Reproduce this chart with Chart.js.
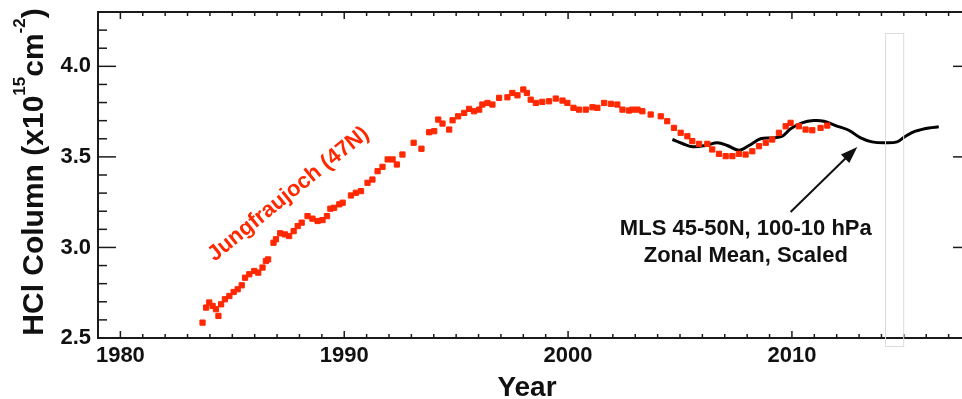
<!DOCTYPE html>
<html>
<head>
<meta charset="utf-8">
<script src="https://cdn.jsdelivr.net/npm/chart.js@4/dist/chart.umd.min.js"></script>
<style>
  html, body { margin: 0; padding: 0; background: #fff; overflow: hidden; }
  #wrap { width: 962px; height: 399px; overflow: hidden; }
</style>
</head>
<body>
<div id="wrap"><canvas id="hclChart" width="976" height="399"></canvas></div>
<script>
// Jungfraujoch (47N) HCl column
const jfjYears = [1983.67, 1983.83, 1983.97, 1984.12, 1984.27, 1984.38, 1984.50, 1984.67, 1984.87, 1985.06,
  1985.24, 1985.42, 1985.57, 1985.76, 1985.98, 1986.16, 1986.35, 1986.50, 1986.60, 1986.84,
  1986.95, 1987.14, 1987.35, 1987.54, 1987.74, 1987.92, 1988.10, 1988.36, 1988.58, 1988.81,
  1989.03, 1989.23, 1989.38, 1989.55, 1989.78, 1989.93, 1990.30, 1990.52, 1990.75, 1991.04,
  1991.26, 1991.49, 1991.71, 1991.94, 1992.16, 1992.35, 1992.60, 1993.10, 1993.45, 1993.79,
  1994.02, 1994.20, 1994.39, 1994.69, 1994.84, 1995.09, 1995.36, 1995.58, 1995.80, 1996.03,
  1996.17, 1996.40, 1996.62, 1996.92, 1997.29, 1997.51, 1997.74, 1998.00, 1998.16, 1998.33,
  1998.56, 1998.85, 1999.15, 1999.45, 1999.75, 1999.97, 2000.24, 2000.49, 2000.79, 2001.09,
  2001.31, 2001.61, 2001.91, 2002.20, 2002.43, 2002.72, 2002.87, 2003.10, 2003.32, 2003.69,
  2004.14, 2004.43, 2004.73, 2005.03, 2005.33, 2005.55, 2005.85, 2006.22, 2006.44, 2006.74,
  2007.04, 2007.34, 2007.63, 2007.93, 2008.23, 2008.53, 2008.83, 2009.12, 2009.42, 2009.72,
  2009.94, 2010.31, 2010.61, 2010.91, 2011.28, 2011.58];
const jfjValues = [2.585, 2.668, 2.696, 2.677, 2.659, 2.622, 2.686, 2.714, 2.732, 2.754,
  2.769, 2.791, 2.833, 2.852, 2.870, 2.861, 2.889, 2.925, 2.934, 3.026,
  3.045, 3.078, 3.072, 3.063, 3.090, 3.118, 3.137, 3.173, 3.159, 3.146,
  3.151, 3.173, 3.214, 3.219, 3.238, 3.247, 3.287, 3.302, 3.311, 3.357,
  3.375, 3.421, 3.445, 3.486, 3.486, 3.458, 3.513, 3.578, 3.545, 3.636,
  3.642, 3.706, 3.684, 3.651, 3.702, 3.724, 3.743, 3.765, 3.752, 3.761,
  3.789, 3.798, 3.789, 3.826, 3.829, 3.853, 3.840, 3.872, 3.853, 3.816,
  3.798, 3.804, 3.807, 3.822, 3.811, 3.798, 3.771, 3.761, 3.761, 3.774,
  3.771, 3.798, 3.793, 3.789, 3.761, 3.756, 3.761, 3.761, 3.752, 3.734,
  3.724, 3.697, 3.660, 3.633, 3.614, 3.587, 3.572, 3.572, 3.541, 3.517,
  3.504, 3.504, 3.517, 3.513, 3.531, 3.559, 3.578, 3.596, 3.633, 3.669,
  3.688, 3.669, 3.651, 3.647, 3.660, 3.673];

// MLS 45-50N, 100-10 hPa zonal mean, scaled
const mlsYears = [2004.66, 2005.10, 2005.55, 2006.15, 2006.67, 2007.11, 2007.63, 2008.08, 2008.60, 2009.12,
  2009.57, 2009.94, 2010.45, 2010.98, 2011.43, 2011.95, 2012.54, 2013.07, 2013.58, 2014.11,
  2014.70, 2015.07, 2015.52, 2016.12, 2016.56];
const mlsValues = [3.596, 3.574, 3.556, 3.563, 3.578, 3.563, 3.537, 3.563, 3.600, 3.605,
  3.614, 3.655, 3.688, 3.701, 3.697, 3.673, 3.647, 3.605, 3.583, 3.578,
  3.583, 3.614, 3.642, 3.660, 3.666];

const xTicks = [1980, 1990, 2000, 2010];
const yTicks = [2.5, 3.0, 3.5, 4.0];

Chart.defaults.font.family = "'Liberation Sans', Arial, sans-serif";
Chart.defaults.color = '#111';

const AXIS = '#1a1a1a';
const RED = 'rgb(255, 40, 0)';

function line(ctx, x1, y1, x2, y2) {
  ctx.beginPath();
  ctx.moveTo(x1, y1);
  ctx.lineTo(x2, y2);
  ctx.stroke();
}

// IDL style box with inward ticks on all four sides
const frame = {
  id: 'frame',
  afterDraw(chart) {
    const { ctx, chartArea: a, scales: { x, y } } = chart;
    ctx.save();
    ctx.strokeStyle = AXIS;
    ctx.lineWidth = 1.5;
    for (let yr = Math.ceil(x.min); yr <= x.max; yr++) {
      const px = x.getPixelForValue(yr);
      const len = yr % 10 === 0 ? 7 : 4;
      line(ctx, px, a.bottom, px, a.bottom - len);
      line(ctx, px, a.top, px, a.top + len);
    }
    for (let i = Math.round(y.min * 10); i <= Math.round(y.max * 10); i++) {
      const py = y.getPixelForValue(i / 10);
      const len = i % 5 === 0 ? 18 : 9;
      line(ctx, a.left, py, a.left + len, py);
      line(ctx, a.right, py, a.right - len, py);
    }
    ctx.lineWidth = 2;
    ctx.strokeRect(a.left, a.top, a.right - a.left, a.bottom - a.top);
    ctx.restore();
  }
};

// titles and annotations
const notes = {
  id: 'notes',
  afterDraw(chart) {
    const { ctx, scales: { x, y } } = chart;
    ctx.save();

    // faint grey box
    ctx.strokeStyle = '#dcdcdc';
    ctx.lineWidth = 1;
    const bx1 = x.getPixelForValue(2014.16), bx2 = x.getPixelForValue(2014.97);
    const by1 = y.getPixelForValue(4.184), by2 = y.getPixelForValue(2.456);
    ctx.strokeRect(bx1 + 0.5, by1 + 0.5, bx2 - bx1, by2 - by1);

    // x title
    ctx.fillStyle = '#111';
    ctx.font = 'bold 28px "Liberation Sans"';
    ctx.textAlign = 'center';
    ctx.textBaseline = 'alphabetic';
    ctx.fillText('Year', 527, 396);

    // y title with superscripts
    const f = 30, fs = 17;
    const parts = [['HCl Column (x10', f, 0], ['15', fs, 0.6 * f], ['cm', f, 0], ['-2', fs, 0.6 * f], [')', f, 0]];
    let total = 0;
    parts.forEach(p => { ctx.font = 'bold ' + p[1] + 'px "Liberation Sans"'; total += ctx.measureText(p[0]).width; });
    ctx.translate(43, 172);
    ctx.rotate(-Math.PI / 2);
    ctx.textAlign = 'left';
    let cx = -total / 2;
    parts.forEach(p => {
      ctx.font = 'bold ' + p[1] + 'px "Liberation Sans"';
      ctx.fillText(p[0], cx, -p[2]);
      cx += ctx.measureText(p[0]).width;
    });
    ctx.setTransform(1, 0, 0, 1, 0, 0);

    // Jungfraujoch label
    ctx.fillStyle = RED;
    ctx.font = 'bold 22px "Liberation Sans"';
    ctx.translate(x.getPixelForValue(1984.2), y.getPixelForValue(2.92));
    ctx.rotate(-39 * Math.PI / 180);
    ctx.textAlign = 'left';
    ctx.fillText('Jungfraujoch (47N)', 0, 0);
    ctx.setTransform(1, 0, 0, 1, 0, 0);

    // MLS label
    ctx.fillStyle = '#111';
    ctx.textAlign = 'center';
    const mx = x.getPixelForValue(2007.94);
    ctx.fillText('MLS 45-50N, 100-10 hPa', mx, y.getPixelForValue(3.069));
    ctx.fillText('Zonal Mean, Scaled', mx, y.getPixelForValue(2.92));

    // arrow
    const tx = x.getPixelForValue(2009.94), ty = y.getPixelForValue(3.196);
    const hx = x.getPixelForValue(2012.92), hy = y.getPixelForValue(3.555);
    const ang = Math.atan2(hy - ty, hx - tx);
    ctx.strokeStyle = '#111';
    ctx.lineWidth = 2;
    line(ctx, tx, ty, hx - 12 * Math.cos(ang), hy - 12 * Math.sin(ang));
    ctx.beginPath();
    ctx.moveTo(hx, hy);
    ctx.lineTo(hx - 17 * Math.cos(ang) + 6 * Math.sin(ang), hy - 17 * Math.sin(ang) - 6 * Math.cos(ang));
    ctx.lineTo(hx - 17 * Math.cos(ang) - 6 * Math.sin(ang), hy - 17 * Math.sin(ang) + 6 * Math.cos(ang));
    ctx.closePath();
    ctx.fill();
    ctx.restore();
  }
};

const ctx = document.getElementById('hclChart').getContext('2d');
const hclChart = new Chart(ctx, {
  type: 'scatter',
  data: {
    datasets: [{
      label: 'Jungfraujoch (47N)',
      data: jfjYears.map((yr, i) => ({ x: yr, y: jfjValues[i] })),
      pointStyle: 'rect',
      pointRadius: 3.7,
      pointBorderWidth: 1,
      backgroundColor: RED,
      borderColor: RED,
      showLine: false
    }, {
      label: 'MLS 45-50N, 100-10 hPa',
      data: mlsYears.map((yr, i) => ({ x: yr, y: mlsValues[i] })),
      showLine: true,
      borderColor: '#000',
      borderWidth: 3,
      pointRadius: 0,
      tension: 0.35
    }]
  },
  options: {
    responsive: false,
    animation: false,
    devicePixelRatio: 1,
    layout: { padding: { top: 12, right: 2, left: 0, bottom: 0 } },
    plugins: { legend: { display: false }, tooltip: { enabled: false } },
    scales: {
      x: {
        type: 'linear',
        min: 1979,
        max: 2018,
        grid: { display: false, drawTicks: false },
        border: { display: false },
        afterBuildTicks: s => { s.ticks = xTicks.map(v => ({ value: v })); },
        afterFit: s => { s.height = 61; s.paddingLeft = 0; s.paddingRight = 0; },
        ticks: { font: { size: 22, weight: 'bold' }, padding: 5, maxRotation: 0, callback: v => String(v) }
      },
      y: {
        min: 2.5,
        max: 4.3,
        grid: { display: false, drawTicks: false },
        border: { display: false },
        afterBuildTicks: s => { s.ticks = yTicks.map(v => ({ value: v })); },
        afterFit: s => { s.width = 98; s.paddingTop = 0; s.paddingBottom = 0; },
        ticks: { font: { size: 22, weight: 'bold' }, padding: 7, callback: v => v.toFixed(1) }
      }
    }
  },
  plugins: [frame, notes]
});
</script>
</body>
</html>
